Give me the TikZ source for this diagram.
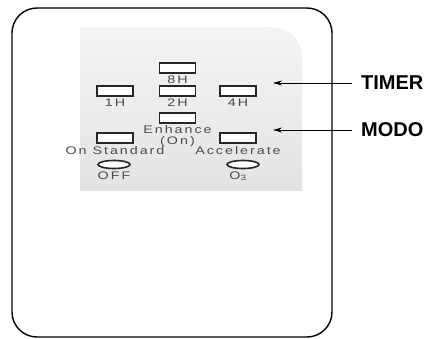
\documentclass[tikz,border=0pt]{standalone}
\usepackage{fontspec}
\newfontfamily\keyfont[FakeStretch=1.3,LetterSpace=18]{Liberation Sans}
\newfontfamily\tagfont{Liberation Sans}
\usetikzlibrary{shapes.geometric, arrows.meta, positioning}
\tikzset{
    body/.style={draw, line width=1.4pt, rounded corners=25pt},
    panel/.style={top color=black!4, bottom color=black!11},
    key/.style={draw, line width=1.5pt, black!85, fill=white, rectangle, minimum width=36pt, minimum height=10pt, inner sep=0pt},
    oval/.style={draw, line width=1.6pt, black!85, fill=white, ellipse, minimum width=32pt, minimum height=8pt, inner sep=0pt},
    lbl/.style={inner sep=0pt, text=black!70, font=\keyfont\fontsize{11}{11}\selectfont, align=center},
    tag/.style={inner sep=0pt, anchor=west, font=\tagfont\bfseries\fontsize{20}{20}\selectfont},
    arrow/.style={-{Stealth[length=9pt, width=5pt]}, line width=0.9pt}
}
\begin{document}
\begin{tikzpicture}[x=1pt, y=-1pt]
\useasboundingbox (0,0) rectangle (429,339);
% remote outline and shaded panel
\shade[panel] (80,191) -- (80,27) -- (267,27) .. controls (292,27) and (302,40) .. (302,62) -- (302,191) -- cycle;
\draw[body] (12,8) rectangle (332,337);
% timer keys
\node[key] (k8h) at (177.5,68) {};
\node[lbl, below=1.5pt of k8h] (l8h) {8H};
\node[key] (k1h) at (115,91) {};
\node[lbl, below=1.5pt of k1h] (l1h) {1H};
\node[key] (k2h) at (177.5,91) {};
\node[lbl, below=1.5pt of k2h] (l2h) {2H};
\node[key] (k4h) at (238,91) {};
\node[lbl, below=1.5pt of k4h] (l4h) {4H};
% mode keys
\node[key] (kenh) at (177.5,118) {};
\node[lbl, below=1.5pt of kenh] (lenh) {Enhance\\(On)};
\node[key] (kstd) at (115,138) {};
\node[lbl, below=3pt of kstd] (lstd) {On Standard};
\node[key] (kacc) at (238,138) {};
\node[lbl, below=3pt of kacc] (lacc) {Accelerate};
\node[oval] (koff) at (114,164.5) {};
\node[lbl, below=2pt of koff] (loff) {OFF};
\node[oval] (ko3) at (243,164.5) {};
\node[lbl, below=2pt of ko3, xshift=-5pt] (lo3) {O\textsubscript{3}};
% callouts
\node[tag] (timer) at (361,83) {TIMER};
\node[tag] (modo) at (361,130) {MODO};
\coordinate (timertip) at (273,83);
\coordinate (modotip) at (273,130);
\draw[arrow] ([xshift=-9pt]timer.west) -- (timertip);
\draw[arrow] ([xshift=-9pt]modo.west) -- (modotip);
\end{tikzpicture}
\end{document}
